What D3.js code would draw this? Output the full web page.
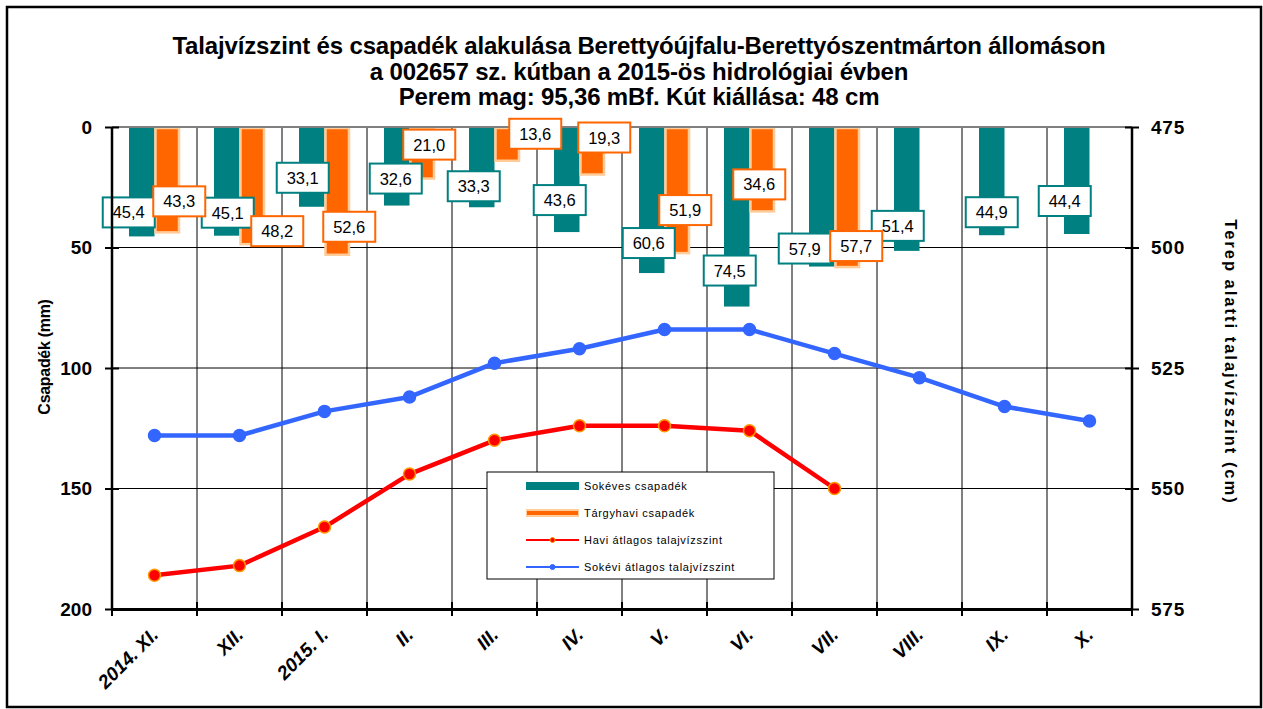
<!DOCTYPE html>
<html>
<head>
<meta charset="utf-8">
<script src="https://cdn.jsdelivr.net/npm/d3@7"></script>
<style>
  body { margin: 0; background: #fff; }
  svg text { font-family: "Liberation Sans", Arial, sans-serif; }
</style>
</head>
<body>
<div id="chart"></div>
<script>
// chart data
var months = ["2014. XI.", "XII.", "2015. I.", "II.", "III.", "IV.", "V.", "VI.", "VII.", "VIII.", "IX.", "X."];
var sokevesCsapadek = [45.4, 45.1, 33.1, 32.6, 33.3, 43.6, 60.6, 74.5, 57.9, 51.4, 44.9, 44.4];
var targyhaviCsapadek = [43.3, 48.2, 52.6, 21.0, 13.6, 19.3, 51.9, 34.6, 57.7];
var haviTalajviz = [568, 566, 558, 547, 540, 537, 537, 538, 550];
var sokeviTalajviz = [539, 539, 534, 531, 524, 521, 517, 517, 522, 527, 533, 536];
var leftTicks = [0, 50, 100, 150, 200];
var rightTicks = [475, 500, 525, 550, 575];
var titleLines = [
    "Talajvízszint és csapadék alakulása Berettyóújfalu-Berettyószentmárton állomáson",
    "a 002657 sz. kútban a 2015-ös hidrológiai évben",
    "Perem mag: 95,36 mBf. Kút kiállása: 48 cm"
];
var legendNames = ["Sokéves csapadék", "Tárgyhavi csapadék", "Havi átlagos talajvízszint", "Sokévi átlagos talajvízszint"];

// label box offsets (px) from the bar end, hand placed like in the original
var tealLabelOff = [[-13, -24], [1, -23], [-9, -29], [-1, -27], [-8, -21], [-7, -32], [-3, -30], [-7, -36], [-17, -18], [-9, -25], [0, -23], [-12, -33]];
var orangeLabelOff = [[12, -30], [25, -12], [12, -27], [7, -33], [28, -26], [12, -36], [8, -42], [-3, -26], [9, -20]];

var W = 1263, H = 709;
var margin = { left: 112, right: 131, top: 127, bottom: 100 };
var teal = "#008080", orange = "#ff6600", orangeLight = "#ffcc99",
    red = "#ff0000", blue = "#3366ff";

var svg = d3.select("#chart").append("svg")
    .attr("width", W)
    .attr("height", H);

svg.append("rect")
    .attr("x", 7).attr("y", 7)
    .attr("width", 1254).attr("height", 700)
    .attr("fill", "#fff")
    .attr("stroke", "#000")
    .attr("stroke-width", 2.5);

var x = d3.scaleBand()
    .domain(months)
    .range([margin.left, W - margin.right]);

var yL = d3.scaleLinear().domain([0, 200]).range([margin.top, H - margin.bottom]);
var yR = d3.scaleLinear().domain([475, 575]).range([margin.top, H - margin.bottom]);

// title
svg.append("g").selectAll("text")
    .data(titleLines)
    .enter()
    .append("text")
    .attr("x", 639)
    .attr("y", function(d, i) { return 54 + i * 25.5; })
    .attr("text-anchor", "middle")
    .attr("font-size", "24px")
    .attr("font-weight", "bold")
    .attr("letter-spacing", "-0.15px")
    .text(function(d) { return d; });

// grid
var grid = svg.append("g");
grid.selectAll("line.v")
    .data(months.slice(1))
    .enter()
    .append("line")
    .attr("x1", function(d) { return x(d); })
    .attr("x2", function(d) { return x(d); })
    .attr("y1", yL(0))
    .attr("y2", yL(200))
    .attr("stroke", "#000")
    .attr("stroke-width", 1);
grid.selectAll("line.h")
    .data([50, 100, 150])
    .enter()
    .append("line")
    .attr("x1", x.range()[0])
    .attr("x2", x.range()[1])
    .attr("y1", function(d) { return yL(d); })
    .attr("y2", function(d) { return yL(d); })
    .attr("stroke", "#000")
    .attr("stroke-width", 1);

var bw = x.bandwidth() * 0.3;

// bars
svg.append("g").selectAll("rect")
    .data(sokevesCsapadek)
    .enter()
    .append("rect")
    .attr("x", function(d, i) { return x(months[i]) + x.bandwidth() / 2 - bw; })
    .attr("y", yL(0))
    .attr("width", bw)
    .attr("height", function(d) { return yL(d) - yL(0); })
    .attr("fill", teal);

svg.append("g").selectAll("rect")
    .data(targyhaviCsapadek)
    .enter()
    .append("rect")
    .attr("x", function(d, i) { return x(months[i]) + x.bandwidth() / 2 + 1; })
    .attr("y", yL(0) + 1)
    .attr("width", bw - 2)
    .attr("height", function(d) { return yL(d) - yL(0); })
    .attr("fill", orange)
    .attr("stroke", orangeLight)
    .attr("stroke-width", 2.5);

// zero line
svg.append("line")
    .attr("x1", x.range()[0])
    .attr("x2", x.range()[1])
    .attr("y1", yL(0))
    .attr("y2", yL(0))
    .attr("stroke", "#808080")
    .attr("stroke-width", 2);

// legend box (under the lines)
var lg = svg.append("g").attr("transform", "translate(487,472)");
lg.append("rect")
    .attr("width", 287)
    .attr("height", 107)
    .attr("fill", "#fff")
    .attr("stroke", "#000")
    .attr("stroke-width", 1);

// lines
function drawLine(data, color, stroke, r, markerStroke) {
    var line = d3.line()
        .x(function(d, i) { return x(months[i]) + x.bandwidth() / 2; })
        .y(function(d) { return yR(d); });
    svg.append("path")
        .datum(data)
        .attr("d", line)
        .attr("fill", "none")
        .attr("stroke", color)
        .attr("stroke-width", stroke)
        .attr("stroke-linejoin", "round");
    svg.append("g").selectAll("circle")
        .data(data)
        .enter()
        .append("circle")
        .attr("cx", function(d, i) { return x(months[i]) + x.bandwidth() / 2; })
        .attr("cy", function(d) { return yR(d); })
        .attr("r", r)
        .attr("fill", color)
        .attr("stroke", markerStroke)
        .attr("stroke-width", 1.5);
}
drawLine(sokeviTalajviz, blue, 4.5, 6, blue);
drawLine(haviTalajviz, red, 4.5, 6, "#ff9900");

// legend items
var legendRows = lg.selectAll("g.item")
    .data(legendNames)
    .enter()
    .append("g")
    .attr("transform", function(d, i) { return "translate(39," + (14 + i * 27) + ")"; });
legendRows.each(function(d, i) {
    var g = d3.select(this);
    if (i === 0) {
        g.append("rect").attr("x", 0).attr("y", -4).attr("width", 53).attr("height", 8).attr("fill", teal);
    } else if (i === 1) {
        g.append("rect").attr("x", 0).attr("y", -4).attr("width", 53).attr("height", 8).attr("fill", orangeLight);
        g.append("rect").attr("x", 1).attr("y", -2).attr("width", 51).attr("height", 4).attr("fill", orange);
    } else {
        var c = i === 2 ? red : blue;
        g.append("line").attr("x1", 0).attr("x2", 53).attr("y1", 0).attr("y2", 0)
            .attr("stroke", c).attr("stroke-width", 2);
        g.append("circle").attr("cx", 26.5).attr("cy", 0).attr("r", 2.5)
            .attr("fill", c).attr("stroke", i === 2 ? "#ff9900" : c);
    }
    g.append("text")
        .attr("x", 58)
        .attr("y", 4)
        .attr("font-size", "11px")
        .attr("letter-spacing", "0.7px")
        .attr("fill", "#000")
        .text(d);
});

// data labels
function drawLabels(data, offs, color, side) {
    var g = svg.append("g");
    data.forEach(function(d, i) {
        var cx = x(months[i]) + x.bandwidth() / 2 + side * bw / 2 + offs[i][0];
        var cy = yL(d) + offs[i][1];
        g.append("rect")
            .attr("x", cx - 26)
            .attr("y", cy - 15)
            .attr("width", 52)
            .attr("height", 30)
            .attr("fill", "#fff")
            .attr("stroke", color)
            .attr("stroke-width", 2);
        g.append("text")
            .attr("x", cx)
            .attr("y", cy + 6)
            .attr("text-anchor", "middle")
            .attr("font-size", "16.5px")
            .attr("fill", "#000")
            .text(d3.format(".1f")(d).replace(".", ","));
    });
}
drawLabels(sokevesCsapadek, tealLabelOff, teal, -1);
drawLabels(targyhaviCsapadek, orangeLabelOff, orange, 1);

// axes
var axL = svg.append("g")
    .attr("transform", "translate(" + margin.left + ",0)")
    .call(d3.axisLeft(yL).tickValues(leftTicks).tickSize(7).tickPadding(13));
axL.selectAll(".tick line").attr("x2", 7).attr("x1", -7).attr("stroke-width", 2);
axL.select(".domain").attr("stroke-width", 2.5).attr("d", "M0," + yL(0) + "V" + yL(200));
axL.selectAll("text").attr("font-size", "19px").attr("font-weight", "bold").attr("fill", "#000")
    .attr("font-family", "Liberation Sans, Arial, sans-serif");

var axR = svg.append("g")
    .attr("transform", "translate(" + (W - margin.right) + ",0)")
    .call(d3.axisRight(yR).tickValues(rightTicks).tickSize(7).tickPadding(12));
axR.selectAll(".tick line").attr("x1", -7).attr("x2", 7).attr("stroke-width", 2);
axR.select(".domain").attr("stroke-width", 2.5).attr("d", "M0," + yR(475) + "V" + yR(575));
axR.selectAll("text").attr("font-size", "19px").attr("font-weight", "bold").attr("fill", "#000")
    .attr("letter-spacing", "0.8px")
    .attr("font-family", "Liberation Sans, Arial, sans-serif");

var axB = svg.append("g")
    .attr("transform", "translate(0," + yL(200) + ")")
    .call(d3.axisBottom(x).tickSize(0).tickFormat(""));
axB.select(".domain").attr("stroke-width", 3);
axB.selectAll("line.bt")
    .data(months.concat(["end"]))
    .enter()
    .append("line")
    .attr("x1", function(d, i) { return x.range()[0] + i * x.step(); })
    .attr("x2", function(d, i) { return x.range()[0] + i * x.step(); })
    .attr("y1", -7)
    .attr("y2", 7)
    .attr("stroke", "#000")
    .attr("stroke-width", 2);

svg.append("g").selectAll("text")
    .data(months)
    .enter()
    .append("text")
    .attr("transform", function(d) {
        return "translate(" + (x(d) + x.bandwidth() / 2 + 5) + "," + (yL(200) + 27) + ") rotate(-45)";
    })
    .attr("text-anchor", "end")
    .attr("font-size", "19px")
    .attr("font-weight", "bold")
    .attr("font-style", "italic")
    .text(function(d) { return d; });

// axis titles
svg.append("text")
    .attr("transform", "translate(50,357) rotate(-90)")
    .attr("text-anchor", "middle")
    .attr("font-size", "16px")
    .attr("font-weight", "bold")
    .attr("letter-spacing", "-0.3px")
    .text("Csapadék (mm)");

svg.append("text")
    .attr("transform", "translate(1225,362) rotate(90)")
    .attr("text-anchor", "middle")
    .attr("font-size", "16.5px")
    .attr("font-weight", "bold")
    .attr("letter-spacing", "2px")
    .text("Terep alatti talajvízszint (cm)");
</script>
</body>
</html>
